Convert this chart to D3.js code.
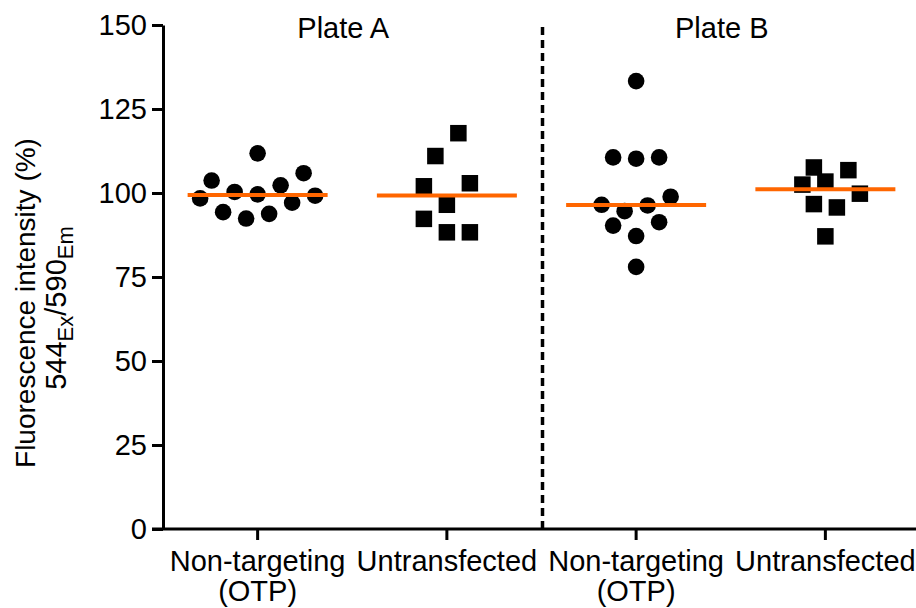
<!DOCTYPE html>
<html>
<head>
<meta charset="utf-8">
<script src="https://cdn.jsdelivr.net/npm/d3@7"></script>
<style>
  html, body { margin: 0; padding: 0; background: #fff; }
  svg { display: block; font-family: "Liberation Sans", Arial, sans-serif; }
</style>
</head>
<body>
<svg id="chart" width="916" height="608"></svg>
<script>
// ---- data (grouped in the rows of the scatter) ----
const categories = ["Non-targeting|(OTP)", "Untransfected", "Non-targeting|(OTP)", "Untransfected"];
const plates = ["Plate A", "Plate B"];
const yTicks = [0, 25, 50, 75, 100, 125, 150];
const plateANonTargeting = [[94.3, 92.4, 93.8, 97.1], [98.4, 100.3, 99.6, 102.3, 99.2], [103.7, 105.9], [111.8]];
const plateAUntransfected = [[92.3, 88.3, 88.3], [102.0, 96.5, 102.9], [111.0, 117.8]];
const plateBNonTargeting = [[78.0], [90.3, 87.2, 91.3], [96.5, 94.6, 96.3, 98.9], [110.6, 110.2, 110.6], [133.3]];
const plateBUntransfected = [[87.1], [96.7, 95.7], [102.5, 103.4, 99.8], [107.6, 106.8]];
const symbols = ["circle", "square", "circle", "square"];

const groups = [plateANonTargeting, plateAUntransfected, plateBNonTargeting, plateBUntransfected];

// ---- layout ----
const W = 916, H = 608;
const svg = d3.select("#chart");
const y = d3.scaleLinear().domain([0, 150]).range([529, 25]);
const x = d3.scaleBand().domain(d3.range(categories.length)).range([163, 920]).padding(0);
const cx = i => x(i) + x.bandwidth() / 2;

const FONT = 29;
const STEP = 23, HALF = 11.5, DMIN = 18, R = 8.3, SQ = 16.5;

// dashed separator
svg.append("line")
  .attr("x1", x(2) + 1).attr("x2", x(2) + 1)
  .attr("y1", y(0)).attr("y2", y(150) - 3)
  .attr("stroke", "#000").attr("stroke-width", 3.5)
  .attr("stroke-dasharray", "8,5");

// y axis
const yAxis = svg.append("g")
  .attr("transform", `translate(${x.range()[0]},0)`)
  .call(d3.axisLeft(y).tickValues(yTicks).tickSize(11).tickSizeOuter(0).tickPadding(5));
yAxis.select(".domain").attr("stroke-width", 3).attr("stroke", "#000");
yAxis.selectAll(".tick line").attr("stroke-width", 3).attr("stroke", "#000");
yAxis.selectAll(".tick text").attr("font-size", FONT).attr("fill", "#000")
  .attr("font-family", "Liberation Sans, Arial, sans-serif");

// x axis
const xAxis = svg.append("g")
  .attr("transform", `translate(0,${y(0)})`)
  .call(d3.axisBottom(x).tickSize(11).tickSizeOuter(0).tickFormat(() => ""));
xAxis.select(".domain").attr("stroke-width", 3).attr("stroke", "#000")
  .attr("d", `M${x.range()[0] - 11},0H${W + 5}`);
xAxis.selectAll(".tick line").attr("stroke-width", 3).attr("stroke", "#000");
xAxis.selectAll(".tick").each(function(d) {
  const lines = categories[d].split("|");
  const t = d3.select(this).append("text")
    .attr("text-anchor", "middle").attr("font-size", FONT).attr("fill", "#000")
    .attr("font-family", "Liberation Sans, Arial, sans-serif");
  lines.forEach((s, k) => {
    t.append("tspan").attr("x", 0).attr("y", 42 + k * 30).text(s);
  });
});

// plate titles
plates.forEach((p, k) => {
  const mid = x(2 * k + 1);
  svg.append("text")
    .attr("x", mid - 9).attr("y", 38)
    .attr("text-anchor", "middle").attr("font-size", FONT).attr("fill", "#000")
    .text(p);
});

// y axis title
const title = svg.append("g");
title.append("text")
  .attr("transform", "translate(35,303) rotate(-90)")
  .attr("text-anchor", "middle").attr("font-size", 28).attr("fill", "#000")
  .text("Fluorescence intensity (%)");
const t2 = title.append("text")
  .attr("transform", "translate(66,308) rotate(-90)")
  .attr("text-anchor", "middle").attr("font-size", 29).attr("fill", "#000");
t2.append("tspan").text("544");
t2.append("tspan").attr("font-size", 22).attr("dy", 7).text("Ex");
t2.append("tspan").attr("dy", -7).text("/590");
t2.append("tspan").attr("font-size", 22).attr("dy", 7).text("Em");

// beeswarm-like row layout (rows centred, pushed outward on overlap)
function layout(rows, center) {
  const placed = [];
  rows.forEach(row => {
    const n = row.length;
    row.forEach((v, j) => {
      const py = y(v);
      const nominal = (j - (n - 1) / 2) * STEP;
      let cands = [];
      if (nominal === 0) {
        cands.push(0);
        for (let k = 1; k < 12; k++) { cands.push(-k * HALF, k * HALF); }
      } else {
        const dir = Math.sign(nominal);
        for (let k = 0; k < 12; k++) cands.push(nominal + dir * k * HALF);
      }
      let off = cands[0];
      for (const c of cands) {
        const hit = placed.some(p => Math.hypot(p.dx - c, p.py - py) < DMIN);
        if (!hit) { off = c; break; }
      }
      placed.push({ v, dx: off, py });
    });
  });
  return placed.map(p => ({ v: p.v, x: center + p.dx, y: p.py }));
}

groups.forEach((rows, i) => {
  const c = cx(i);
  const pts = layout(rows, c);
  const g = svg.append("g");
  if (symbols[i] === "circle") {
    g.selectAll("circle").data(pts).join("circle")
      .attr("cx", d => d.x).attr("cy", d => d.y).attr("r", R).attr("fill", "#000");
  } else {
    g.selectAll("rect").data(pts).join("rect")
      .attr("x", d => d.x - SQ / 2).attr("y", d => d.y - SQ / 2)
      .attr("width", SQ).attr("height", SQ).attr("fill", "#000");
  }
  const med = d3.median(rows.flat());
  svg.append("line")
    .attr("x1", c - 70).attr("x2", c + 70)
    .attr("y1", y(med)).attr("y2", y(med))
    .attr("stroke", "#FF6600").attr("stroke-width", 4);
});
</script>
</body>
</html>
